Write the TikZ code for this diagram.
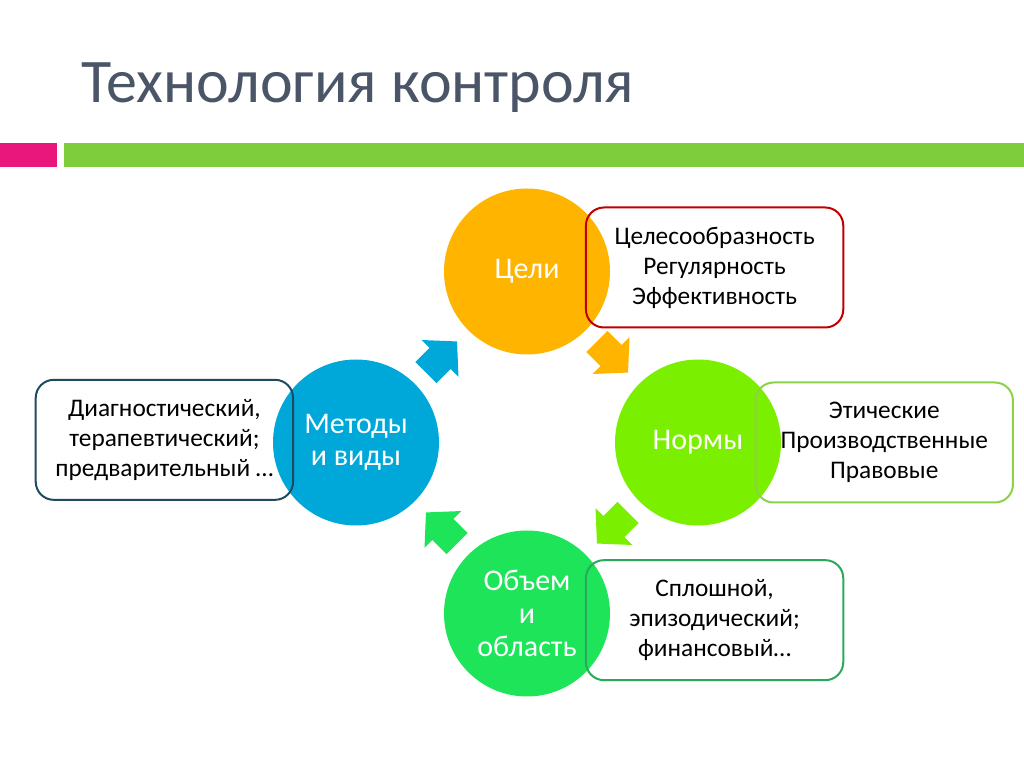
\documentclass[tikz,border=0pt]{standalone}
\usepackage{fontspec}
\setmainfont{Carlito}
\usetikzlibrary{chains,positioning,calc}

\definecolor{ctitle}{RGB}{74,85,104}
\definecolor{cpink}{RGB}{233,22,123}
\definecolor{cbar}{RGB}{125,205,60}
\definecolor{cyellow}{RGB}{255,180,0}
\definecolor{clime}{RGB}{122,240,0}
\definecolor{cgreen}{RGB}{30,228,90}
\definecolor{cblue}{RGB}{0,168,218}
\definecolor{cred}{RGB}{192,0,0}
\definecolor{clight}{RGB}{140,210,70}
\definecolor{cdark}{RGB}{40,170,90}
\definecolor{cteal}{RGB}{30,75,95}

% block arrow between two circles: center, angle, colour
\newcommand{\cyclearrow}[3]{%
  \fill[#3, shift={#1}, rotate=#2] (-22,-15) -- (-2,-15) -- (-2,-26) -- (22,0)
    -- (-2,26) -- (-2,15) -- (-22,15) -- cycle;}

\begin{document}
\begin{tikzpicture}[
      x=0.75pt, y=0.75pt,
      font=\fontsize{19}{22.5}\selectfont,
      rond/.style={
        on chain,
        circle,
        minimum size=124.5pt,
        inner sep=0pt,
        text=white,
        align=center,
        font=\fontsize{22.5}{24.5}\selectfont
      },
      cadre/.style={
        draw,
        line width=1.5pt,
        rounded corners=13.5pt,
        minimum width=193pt,
        minimum height=90pt,
        inner sep=0pt,
        align=center
      }
    ]
    \useasboundingbox (0,0) rectangle (1024,767);

    \node[anchor=base west, text=ctitle, font=\fontsize{46.5}{52}\selectfont] (titre) at (77,664) {Технология контроля};
    \fill[cpink] (0,600) rectangle (57,624);
    \fill[cbar] (64,600) rectangle (1024,624);

    \begin{scope}[shift={(527,324.5)}, start chain=ronde placed {at=(\tikzchaincount*-90+180:171)}]
      \node[rond, fill=cyellow] (celi) {Цели};
      \node[rond, fill=clime] (normy) {Нормы};
      \node[rond, fill=cgreen] (obem) {Объем\\и\\область};
      \node[rond, fill=cblue] (metody) {Методы\\и виды};
    \end{scope}

    \node[cadre, draw=cred, right=-19pt of celi, yshift=3pt] (b1) {Целесообразность\\Регулярность\\Эффективность};
    \node[cadre, draw=clight, right=-20pt of normy] (b2) {Этические\\Производственные\\Правовые};
    \node[cadre, draw=cdark, right=-19pt of obem, yshift=-5pt] (b3) {Сплошной,\\эпизодический;\\финансовый…};
    \node[cadre, draw=cteal, left=-16pt of metody, yshift=2pt] (b4) {Диагностический,\\терапевтический;\\предварительный …};

    \cyclearrow{($(metody)!0.5!(celi)$)}{45}{cblue}
    \cyclearrow{($(celi)!0.5!(normy)$)}{-45}{cyellow}
    \cyclearrow{($(normy)!0.5!(obem)$)}{-135}{clime}
    \cyclearrow{($(obem)!0.5!(metody)$)}{135}{cgreen}
  \end{tikzpicture}
\end{document}
